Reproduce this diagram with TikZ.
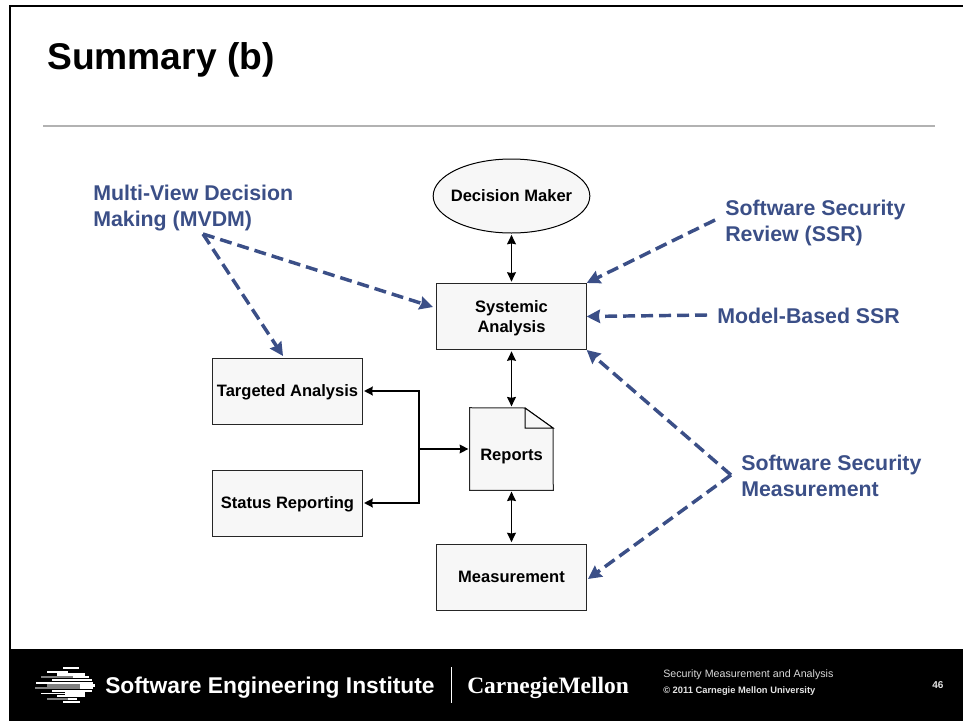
\documentclass[tikz,border=0pt]{standalone}
\usepackage{fontspec}
\setsansfont{Liberation Sans}
\newfontfamily\serifmark{Liberation Serif}
\usepackage{tikz}
\usetikzlibrary{shapes,arrows,arrows.meta}
\definecolor{callblue}{RGB}{59,79,135}
\definecolor{boxfill}{RGB}{247,247,247}
\tikzset{
  boxfont/.style={font=\sffamily\bfseries\fontsize{12.4}{14.5}\selectfont},
  boxnode/.style={boxfont,draw=black!85,line width=0.75,fill=boxfill,minimum width=112pt,minimum height=49.5pt,inner sep=0pt,align=center,text depth=0pt},
  callnote/.style={text=callblue,anchor=west,align=left,inner sep=0pt,font=\sffamily\bfseries\fontsize{16}{19.5}\selectfont},
  flowline/.style={line width=1.25,shorten <=1pt,shorten >=1pt,{Stealth[length=7pt,width=6.5pt,inset=0.5pt]}-{Stealth[length=7pt,width=6.5pt,inset=0.5pt]}},
  linkline/.style={line width=1.5,shorten >=1pt,-{Stealth[length=6.5pt,width=6.5pt,inset=0.5pt]}},
  callline/.style={draw=callblue,line width=2.6,dash pattern=on 9pt off 4.5pt,-{Stealth[length=10pt,width=10pt,inset=1pt]}},
  stripewhite/.style={draw=white,line width=1.6},
  stripegray/.style={draw=black!50,line width=1.6},
}
\begin{document}
\begin{tikzpicture}[x=0.75pt,y=0.75pt,yscale=-1]
    \useasboundingbox (0,0) rectangle (963,721);

    %Shape: Frame
    \draw [line width=1.6]  (10,650) -- (10,6) -- (963,6) ;
    %Shape: Footer
    \fill [black]  (9,649) rectangle (963,721) ;
    %Straight Lines: rule under the heading
    \draw [draw=black!30,line width=1]  (43,126) -- (935,126) ;

    % Text Node
    \node [anchor=base west,inner sep=0pt,font=\sffamily\bfseries\fontsize{27.9}{30}\selectfont] (heading) at (47,69.5) {Summary (b)};

    %Shape: Ellipse
    \node [ellipse,boxfont,draw=black,line width=0.75,fill=boxfill,minimum width=117.5pt,minimum height=55.5pt,inner sep=0pt] (maker) at (511.5,196) {\makebox[0pt]{Decision Maker}};
    %Shape: Rectangle
    \node [boxnode] (systemic) at (511.5,316.5) {Systemic\\Analysis};
    \node [boxnode] (measure) at (511.5,577) {Measurement};
    \node [boxnode] (targeted) at (287.5,391) {Targeted Analysis};
    \node [boxnode] (status) at (287.5,503) {Status Reporting};

    %Shape: Page with a folded corner
    \node [minimum width=62.25pt,minimum height=61.5pt,inner sep=0pt] (reports) at (511.5,449) {};
    \draw [draw=black!85,line width=0.75,fill=boxfill]  (reports.north west) -- (525,408) -- (553,428) -- (reports.south east) -- (reports.south west) -- cycle ;
    \draw [draw=black,line width=0.75,fill=boxfill]  (525,408) -- (525,428) -- (553,428) -- cycle ;
    % Text Node
    \node [boxfont,inner sep=0pt,text depth=0pt] (reportstext) at (511.5,455) {Reports};

    %Straight Lines
    \draw [flowline]  (maker.south) -- (systemic.north) ;
    \draw [flowline]  (systemic.south) -- (reports.north) ;
    \draw [flowline]  (reports.south) -- (measure.north) ;

    \coordinate (branch) at (419,449);
    \draw [linkline]  (branch) -- (reports.west) ;
    \draw [linkline]  (branch) -- (branch |- targeted.east) -- (targeted.east) ;
    \draw [linkline]  (branch) -- (branch |- status.east) -- (status.east) ;

    % Text Node
    \node [callnote] (mvdm) at (93,208) {Multi-View Decision\\Making (MVDM)};
    \node [callnote] (ssr) at (725,223) {Software Security\\Review (SSR)};
    \node [callnote] (modelssr) at (717,316) {Model-Based SSR};
    \node [callnote] (ssm) at (741,476) {Software Security\\Measurement};

    %Straight Lines
    \coordinate (mvdmtip) at (203,234);
    \coordinate (ssrtip) at (715,220);
    \coordinate (modeltip) at (707,315);
    \coordinate (ssmtip) at (731,475);
    \coordinate (systemicin) at (433,307);
    \coordinate (targetedin) at (283,356);
    \coordinate (measurein) at (588,579);
    \draw [callline]  (mvdmtip) -- (systemicin) ;
    \draw [callline]  (mvdmtip) -- (targetedin) ;
    \draw [callline]  (ssrtip) -- (systemic.north east) ;
    \draw [callline]  (modeltip) -- (systemic.east) ;
    \draw [callline]  (ssmtip) -- (systemic.south east) ;
    \draw [callline]  (ssmtip) -- (measurein) ;

    %Shape: Logo stripes
    \draw [stripewhite]  (63,668) -- (79,668) ;
    \draw [stripewhite,line width=0.8]  (47,672) -- (68,672) ;
    \draw [stripewhite]  (57,674.5) -- (85,674.5) ;
    \draw [stripegray]  (41,677) -- (73,677) ;
    \draw [stripewhite]  (73,677) -- (89,677) ;
    \draw [stripewhite]  (52,680) -- (92,680) ;
    \draw [stripewhite,line width=0.8]  (36,683) -- (93,683) ;
    \draw [stripegray]  (47,685.5) -- (80,685.5) ;
    \draw [stripewhite]  (80,685.5) -- (95,685.5) ;
    \draw [stripegray]  (35,688) -- (80,688) ;
    \draw [stripewhite]  (80,688) -- (93,688) ;
    \draw [stripewhite]  (52,691) -- (92,691) ;
    \draw [stripewhite,line width=0.8]  (41,693.5) -- (65,693.5) ;
    \draw [stripewhite]  (65,693.5) -- (85,693.5) ;
    \draw [stripewhite]  (57,696) -- (85,696) ;
    \draw [stripegray]  (47,699) -- (68,699) ;
    \draw [stripewhite]  (68,699) -- (77,699) ;
    \draw [stripewhite]  (63,702) -- (80,702) ;

    % Text Node
    \node [anchor=base west,inner sep=0pt,text=white,font=\sffamily\bfseries\fontsize{17.1}{20}\selectfont] (sei) at (105,693) {Software Engineering Institute};
    \draw [draw=white,line width=0.75]  (451,667) -- (451,703) ;
    \node [anchor=base west,inner sep=0pt,text=white,font=\serifmark\bfseries\fontsize{17.6}{20}\selectfont] (cmu) at (467,693) {CarnegieMellon};
    \node [anchor=west,inner sep=0pt,text=white!85!black,font=\sffamily\fontsize{8}{9}\selectfont] (course) at (663,675) {Security Measurement and Analysis};
    \node [anchor=west,inner sep=0pt,text=white!90!black,font=\sffamily\bfseries\fontsize{7}{9}\selectfont] (copyright) at (663,691) {© 2011 Carnegie Mellon University};
    \node [anchor=west,inner sep=0pt,text=white!90!black,font=\sffamily\bfseries\fontsize{7.5}{9}\selectfont] (pagenum) at (932,685.5) {46};
\end{tikzpicture}
\end{document}
